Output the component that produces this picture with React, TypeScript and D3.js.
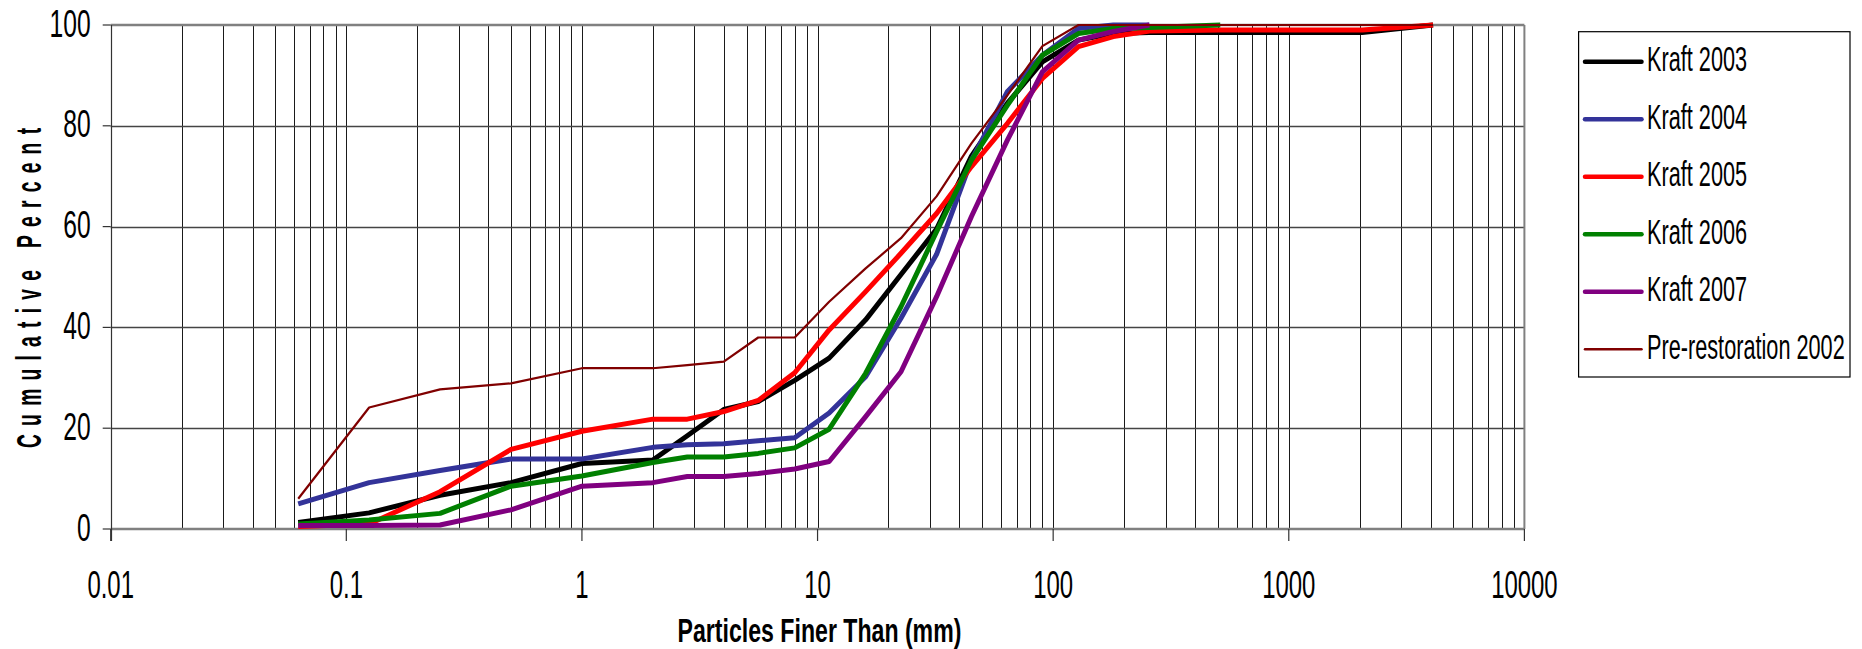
import React from "react";
import * as d3 from "d3";

// sieve sizes (mm) and cumulative percent finer for each survey
const sizes = [0.0625, 0.125, 0.25, 0.5, 1, 2, 2.8, 4, 5.6, 8, 11.2, 16, 22.6, 32, 45, 64, 90, 128, 180, 256, 512, 1024, 2048, 4096];

const kraft2003 = [1.3, 3.2, 6.7, 9.2, 13.0, 13.7, 18.5, 23.7, 25.3, 29.5, 33.9, 41.5, 50.5, 59.5, 74.0, 84.5, 92.7, 97.0, 98.3, 98.5, 98.5, 98.5, 98.5, 100];
const kraft2004 = [5.0, 9.2, 11.6, 13.9, 13.9, 16.2, 16.7, 16.9, 17.5, 18.1, 23.0, 30.2, 41.8, 54.5, 73.2, 86.8, 94.0, 99.3, 100, 100];
const kraft2005 = [0.5, 1.0, 7.4, 15.8, 19.4, 21.8, 21.8, 23.3, 25.5, 31.0, 39.5, 47.1, 54.7, 62.6, 71.9, 80.5, 89.4, 95.7, 97.7, 98.8, 99.0, 99.0, 99.0, 100];
const kraft2006 = [1.0, 1.8, 3.1, 8.5, 10.5, 13.2, 14.3, 14.3, 15.0, 16.1, 19.8, 30.9, 44.1, 59.0, 73.2, 84.1, 94.0, 98.3, 99.3, 99.5, 100];
const kraft2007 = [0.7, 0.7, 0.8, 3.8, 8.5, 9.2, 10.4, 10.4, 11.0, 11.9, 13.4, 22.3, 31.2, 46.1, 62.0, 77.2, 90.7, 97.0, 98.7, 100];
const pre2002 = [6.0, 24.1, 27.7, 28.9, 31.9, 31.9, 32.5, 33.2, 38.0, 38.0, 45.1, 51.7, 57.7, 66.0, 76.5, 86.1, 95.8, 100, 100, 100, 100, 100, 100, 100];

const seriesNames = ["Kraft 2003", "Kraft 2004", "Kraft 2005", "Kraft 2006", "Kraft 2007", "Pre-restoration 2002"];
const seriesValues = [kraft2003, kraft2004, kraft2005, kraft2006, kraft2007, pre2002];
const seriesColors = ["#000000", "#333399", "#ff0000", "#008000", "#800080", "#800000"];
const seriesWidths = [5, 5, 5, 5, 5, 2.2];

const xTickLabels = [0.01, 0.1, 1, 10, 100, 1000, 10000];
const yTickLabels = [0, 20, 40, 60, 80, 100];

const W = 1862;
const H = 649;
const FONT = "'Liberation Sans', Arial, sans-serif";

// squeezed text, the source uses a narrow face
function SqText({ x, y, sx, size, anchor = "start", weight = "normal", children }: any) {
  return (
    <g transform={`translate(${x},${y}) scale(${sx},1)`}>
      <text textAnchor={anchor} fontSize={size} fontWeight={weight} fontFamily={FONT} fill="#000">
        {children}
      </text>
    </g>
  );
}

export default function App() {
  const left = 110.7, right = 1524.4, top = 25, bottom = 529;

  const x = d3.scaleLog().domain([0.01, 10000]).range([left, right]);
  const y = d3.scaleLinear().domain([0, 100]).range([bottom, top]);

  const minor = x.ticks();
  const crisp = (v: number) => Math.round(v) + 0.5;

  const lineGen = d3
    .line<[number, number]>()
    .x((d) => x(d[0]))
    .y((d) => y(d[1]));

  const legendX = 1578.6, legendY = 31.7, legendW = 271.4, legendH = 345.3;
  const rowY = (i: number) => 61.7 + i * 57.5;

  return (
    <svg width={W} height={H} style={{ position: "absolute", left: 0, top: 0, background: "#fff" }}>
      <rect x={0} y={0} width={W} height={H} fill="#fff" />

      {/* vertical log grid */}
      {minor.map((v, i) => (
        <line key={"vg" + i} x1={crisp(x(v))} x2={crisp(x(v))} y1={top} y2={bottom} stroke="#1a1a1a" strokeWidth={1} />
      ))}

      {/* horizontal grid */}
      {yTickLabels.slice(1, -1).map((v) => (
        <line key={"hg" + v} x1={left} x2={right} y1={crisp(y(v))} y2={crisp(y(v))} stroke="#444" strokeWidth={1.5} />
      ))}

      {/* plot border */}
      <line x1={left} x2={right} y1={top} y2={top} stroke="#808080" strokeWidth={2.5} />
      <line x1={right} x2={right} y1={top} y2={bottom} stroke="#808080" strokeWidth={2} />
      <line x1={left} x2={right} y1={bottom} y2={bottom} stroke="#808080" strokeWidth={2.5} />
      <line x1={crisp(left)} x2={crisp(left)} y1={top} y2={bottom + 12} stroke="#333" strokeWidth={1.2} />

      {/* y ticks */}
      {yTickLabels.map((v) => (
        <g key={"yt" + v}>
          <line x1={left - 8} x2={left} y1={y(v)} y2={y(v)} stroke="#333" strokeWidth={1.2} />
          <SqText x={90.7} y={y(v) + 11.6} sx={0.64} size={38.5} anchor="end">
            {v}
          </SqText>
        </g>
      ))}

      {/* x ticks */}
      {xTickLabels.map((v) => (
        <g key={"xt" + v}>
          <line x1={x(v)} x2={x(v)} y1={bottom} y2={bottom + 12} stroke="#333" strokeWidth={1.2} />
          <SqText x={x(v)} y={598} sx={0.63} size={38} anchor="middle">
            {String(v)}
          </SqText>
        </g>
      ))}

      {/* series */}
      {seriesValues.map((vals, i) => (
        <path
          key={"s" + i}
          d={lineGen(vals.map((v, j) => [sizes[j], v] as [number, number])) || ""}
          fill="none"
          stroke={seriesColors[i]}
          strokeWidth={seriesWidths[i]}
          strokeLinejoin="round"
        />
      ))}

      {/* axis titles */}
      <SqText x={819.5} y={642} sx={0.68} size={34} anchor="middle" weight="bold">
        Particles Finer Than (mm)
      </SqText>
      <g transform="translate(41,288) rotate(-90) scale(0.55,1)">
        <text
          textAnchor="middle"
          fontSize={35}
          fontWeight="bold"
          fontFamily={FONT}
          textLength={582}
          lengthAdjust="spacing"
        >
          Cumulative Percent
        </text>
      </g>

      {/* legend */}
      <rect x={legendX} y={legendY} width={legendW} height={legendH} fill="#fff" stroke="#000" strokeWidth={1.2} />
      {seriesNames.map((name, i) => (
        <g key={"lg" + i}>
          <line
            x1={1585}
            x2={1641.5}
            y1={rowY(i)}
            y2={rowY(i)}
            stroke={seriesColors[i]}
            strokeWidth={seriesWidths[i] === 5 ? 4.5 : 2.5}
            strokeLinecap="round"
          />
          <SqText x={1647} y={rowY(i) + 9.5} sx={0.62} size={35}>
            {name}
          </SqText>
        </g>
      ))}
    </svg>
  );
}
